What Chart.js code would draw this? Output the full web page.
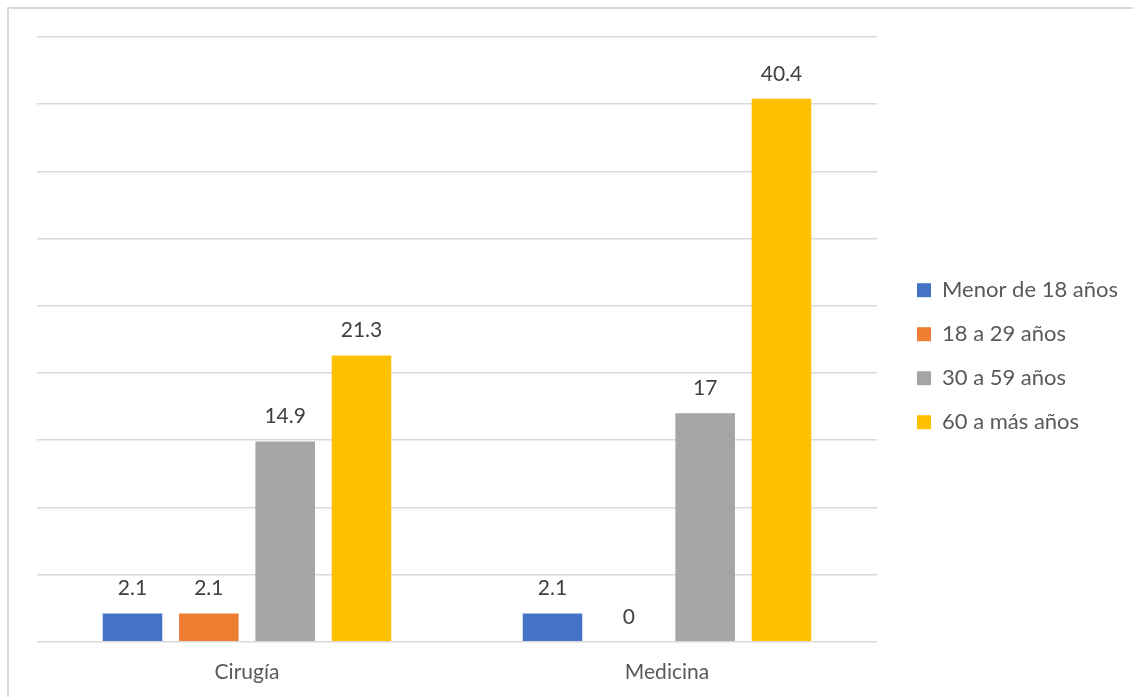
<!DOCTYPE html>
<html>
<head>
<meta charset="utf-8">
<script src="https://cdn.jsdelivr.net/npm/chart.js@4.4.0/dist/chart.umd.min.js"></script>
<style>
  html, body { margin: 0; padding: 0; background: #fff; overflow: hidden; }
  #frame { position: absolute; left: 7px; top: 7px; width: 1200px; height: 760px; border: 2px solid #d9d9d9; }
  #wrap { position: absolute; left: 0; top: 0; width: 1133px; height: 697px; }
</style>
</head>
<body>
<div id="frame"></div>
<div id="wrap"><canvas id="myChart"></canvas></div>
<script>
// categories and series
var categories = ['Cirugía', 'Medicina'];
var seriesNames = ['Menor de 18 años', '18 a 29 años', '30 a 59 años', '60 a más años'];
var menor18 = [2.1, 2.1];
var de18a29 = [2.1, 0];
var de30a59 = [14.9, 17];
var mas60 = [21.3, 40.4];
var colors = ['#4472C4', '#ED7D31', '#A5A5A5', '#FFC000'];

var fontName = 'Lato';
var fontSize = 21;
var legendSize = 22;

// value labels above bars
const valueLabels = {
    id: 'valueLabels',
    afterDatasetsDraw(chart) {
        const ctx = chart.ctx;
        ctx.save();
        ctx.font = fontSize + 'px ' + fontName;
        ctx.fillStyle = '#404040';
        ctx.textAlign = 'center';
        ctx.textBaseline = 'middle';
        chart.data.datasets.forEach((ds, i) => {
            chart.getDatasetMeta(i).data.forEach((bar, j) => {
                ctx.fillText(String(ds.data[j]), bar.x, bar.y - 25);
            });
        });
        ctx.restore();
    }
};

function buildChart() {
    var canvas = document.getElementById('myChart');
    canvas.width = 1133;
    canvas.height = 697;

    // legend should start at x=895, so work out the right padding from the text width
    // (chart.js adds 10px to a vertical legend's width)
    var legPad = 22;
    var mctx = canvas.getContext('2d');
    mctx.font = legendSize + 'px ' + fontName;
    var textW = Math.max(...seriesNames.map(s => mctx.measureText(s).width));
    var padRight = Math.max(0, 1133 - 895 - (legPad + 14 + legendSize / 2 + textW + 10));

    var allSeries = [menor18, de18a29, de30a59, mas60];
    var data = {
        labels: categories,
        datasets: allSeries.map((vals, i) => ({
            label: seriesNames[i],
            data: vals,
            backgroundColor: colors[i],
            borderWidth: 0,
            barPercentage: 0.78,
            categoryPercentage: 0.727
        }))
    };

    const config = {
        type: 'bar',
        data: data,
        plugins: [valueLabels],
        options: {
            responsive: false,
            animation: false,
            layout: {
                padding: {left: 37, top: 37, bottom: -6, right: padRight}
            },
            plugins: {
                legend: {
                    position: 'right',
                    align: 'start',
                    maxWidth: 400,
                    // empty title only used to push the items down to the middle
                    title: {display: true, text: ' ', font: {size: 21}, padding: {top: 195, bottom: 0}},
                    labels: {
                        boxWidth: 14,
                        boxHeight: 14,
                        padding: legPad,
                        color: '#595959',
                        font: {family: fontName, size: legendSize}
                    }
                },
                tooltip: {enabled: false}
            },
            scales: {
                x: {
                    grid: {display: false, drawTicks: false},
                    border: {display: false},
                    ticks: {
                        color: '#595959',
                        padding: 18,
                        font: {family: fontName, size: fontSize}
                    }
                },
                y: {
                    min: 0,
                    max: 45,
                    ticks: {display: false, stepSize: 5},
                    grid: {color: '#d9d9d9', lineWidth: 1.5, drawTicks: false},
                    border: {display: false},
                    afterFit(scale) { scale.width = 0; }
                },
                gap: {
                    position: 'right',
                    display: true,
                    grid: {display: false, drawTicks: false},
                    border: {display: false},
                    ticks: {display: false},
                    afterFit(scale) { scale.width = 18; }
                }
            }
        }
    };

    new Chart(canvas, config);
}

document.fonts.load(legendSize + 'px ' + fontName).then(buildChart, buildChart);
</script>
</body>
</html>
